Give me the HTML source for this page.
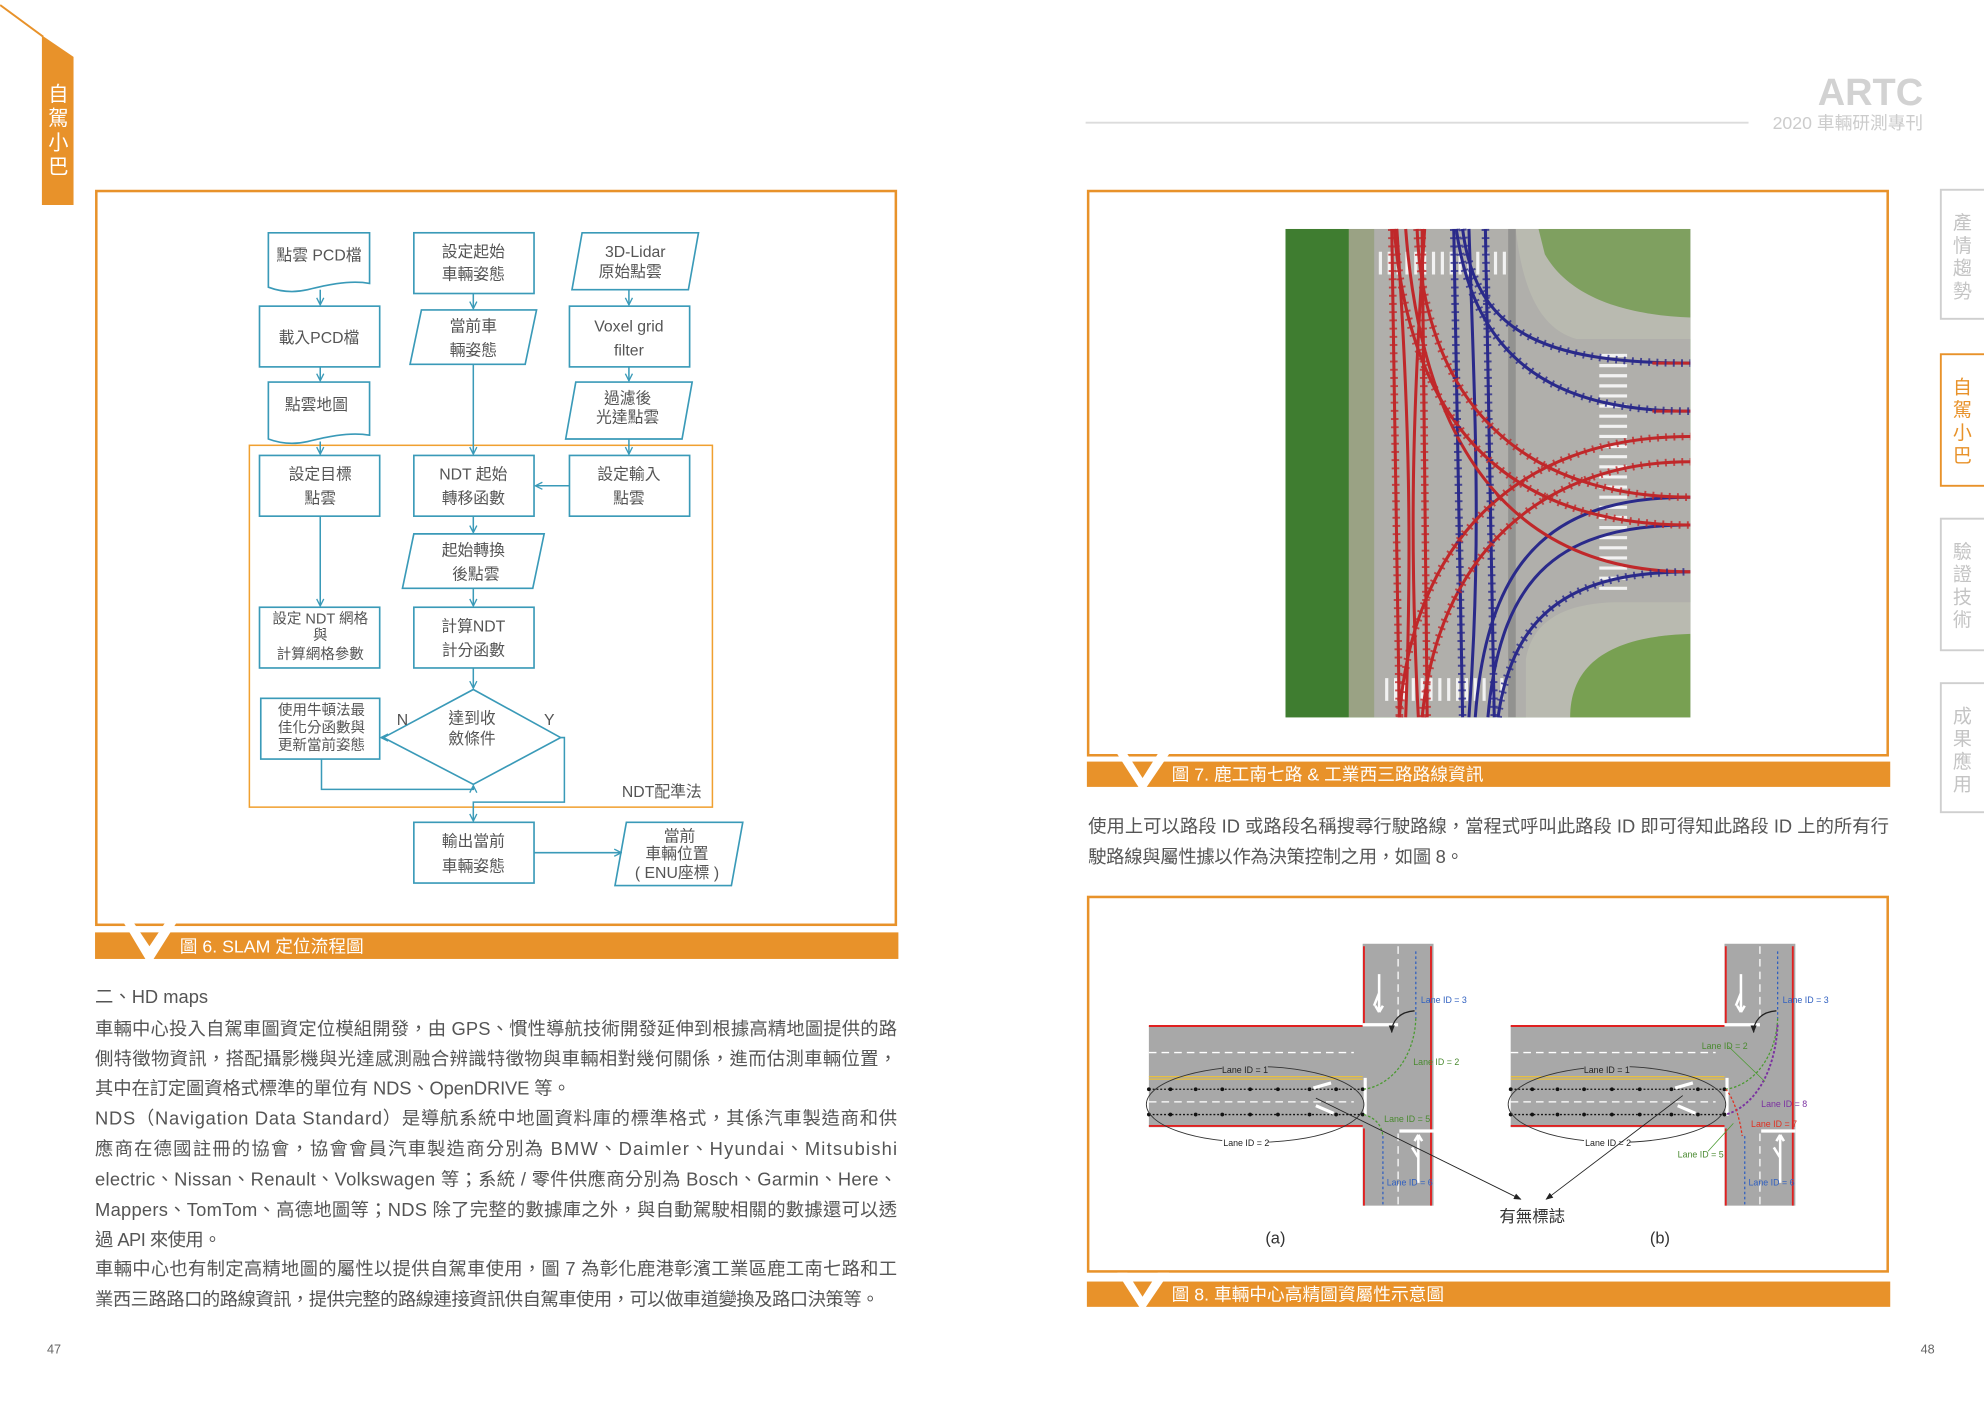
<!DOCTYPE html>
<html><head><meta charset="utf-8"><style>
html,body{margin:0;padding:0;background:#fff;}
svg{display:block;}
text{font-family:"Liberation Sans","Noto Sans CJK TC",sans-serif;}
</style></head><body>
<svg width="1984" height="1403" viewBox="0 0 1568 1109" xmlns="http://www.w3.org/2000/svg">
<defs>
<marker id="ar" viewBox="0 0 10 10" refX="9" refY="5" markerWidth="7" markerHeight="7" orient="auto" markerUnits="userSpaceOnUse">
<polyline points="1,1 9,5 1,9" fill="none" stroke="#3a9ab8" stroke-width="1.5"/></marker>
<marker id="ab" viewBox="0 0 10 10" refX="9" refY="5" markerWidth="6" markerHeight="6" orient="auto" markerUnits="userSpaceOnUse">
<polygon points="0,1 10,5 0,9" fill="#222"/></marker>
</defs>
<rect width="1568" height="1109" fill="#fff"/>

<!-- left tab -->
<line x1="0" y1="4" x2="34" y2="29" stroke="#e8922a" stroke-width="1.5"/>
<polygon points="33,28 58,45 58,162 33,162" fill="#e8922a"/>
<g fill="#fff" font-size="16" text-anchor="middle">
<text x="46" y="80">自</text><text x="46" y="99">駕</text><text x="46" y="118">小</text><text x="46" y="137">巴</text></g>

<!-- header -->
<text x="1520" y="83" font-size="30" font-weight="bold" fill="#d2d2d2" text-anchor="end">ARTC</text>
<line x1="858" y1="97" x2="1382" y2="97" stroke="#dcdcdc" stroke-width="1.5"/>
<text x="1520" y="102" font-size="14" fill="#cccccc" text-anchor="end">2020 車輛研測專刊</text>

<!-- right tabs -->
<g font-size="15" text-anchor="middle">
<rect x="1534" y="150" width="40" height="102" fill="#fff" stroke="#cfcfcf" stroke-width="1.5"/>
<g fill="#c4c4c4"><text x="1551" y="181">產</text><text x="1551" y="199">情</text><text x="1551" y="217">趨</text><text x="1551" y="235">勢</text></g>
<rect x="1534" y="280" width="40" height="104" fill="#fff" stroke="#e8922a" stroke-width="1.5"/>
<g fill="#e8922a"><text x="1551" y="311">自</text><text x="1551" y="329">駕</text><text x="1551" y="347">小</text><text x="1551" y="365">巴</text></g>
<rect x="1534" y="410" width="40" height="104" fill="#fff" stroke="#cfcfcf" stroke-width="1.5"/>
<g fill="#c4c4c4"><text x="1551" y="441">驗</text><text x="1551" y="459">證</text><text x="1551" y="477">技</text><text x="1551" y="495">術</text></g>
<rect x="1534" y="540" width="40" height="102" fill="#fff" stroke="#cfcfcf" stroke-width="1.5"/>
<g fill="#c4c4c4"><text x="1551" y="571">成</text><text x="1551" y="589">果</text><text x="1551" y="607">應</text><text x="1551" y="625">用</text></g>
</g>

<!-- Fig 6 frame -->
<rect x="76" y="151" width="632" height="580" fill="none" stroke="#e8922a" stroke-width="2"/>
<rect x="75" y="737" width="635" height="21" fill="#e8922a"/>
<polygon points="98,730 106,730 118,748 130,730 139,730 120,760 116,760" fill="#fff"/>
<text x="142" y="753" font-size="14" fill="#fff">圖 6. SLAM 定位流程圖</text>

<!-- flowchart -->
<g fill="#fff" stroke="#3a9ab8" stroke-width="1.3">
<path d="M212,184 H292 V224 C275,221 255,226 243,229 C230,232 220,230 212,227 Z"/>
<rect x="327" y="184" width="95" height="48"/>
<polygon points="460,184 552,184 544,229 452,229"/>
<rect x="205" y="242" width="95" height="48"/>
<polygon points="333,245 424,245 415,288 324,288"/>
<rect x="450" y="242" width="95" height="48"/>
<path d="M212,302 H292 V344 C275,341 255,346 243,349 C230,352 220,350 212,347 Z"/>
<polygon points="455,302 547,302 539,347 447,347"/>
</g>
<rect x="197" y="352" width="366" height="286" fill="none" stroke="#f0a030" stroke-width="1.2"/>
<g fill="#fff" stroke="#3a9ab8" stroke-width="1.3">
<rect x="205" y="360" width="95" height="48"/>
<rect x="327" y="360" width="95" height="48"/>
<rect x="450" y="360" width="95" height="48"/>
<polygon points="327,422 430,422 421,465 318,465"/>
<rect x="205" y="480" width="95" height="48"/>
<rect x="327" y="480" width="95" height="48"/>
<rect x="206" y="552" width="94" height="48"/>
<polygon points="374,545 443,583 374,620 303,583"/>
<rect x="327" y="650" width="95" height="48"/>
<polygon points="495,650 587,650 578,700 486,700"/>
</g>
<g fill="none" stroke="#3a9ab8" stroke-width="1.2">
<line x1="253" y1="229" x2="253" y2="241" marker-end="url(#ar)"/>
<line x1="253" y1="290" x2="253" y2="301" marker-end="url(#ar)"/>
<line x1="253" y1="349" x2="253" y2="359" marker-end="url(#ar)"/>
<line x1="374" y1="232" x2="374" y2="244" marker-end="url(#ar)"/>
<line x1="374" y1="288" x2="374" y2="359" marker-end="url(#ar)"/>
<line x1="497" y1="229" x2="497" y2="241" marker-end="url(#ar)"/>
<line x1="497" y1="290" x2="497" y2="301" marker-end="url(#ar)"/>
<line x1="497" y1="347" x2="497" y2="359" marker-end="url(#ar)"/>
<line x1="450" y1="384" x2="423" y2="384" marker-end="url(#ar)"/>
<line x1="374" y1="408" x2="374" y2="421" marker-end="url(#ar)"/>
<line x1="374" y1="465" x2="374" y2="479" marker-end="url(#ar)"/>
<line x1="253" y1="408" x2="253" y2="479" marker-end="url(#ar)"/>
<line x1="374" y1="528" x2="374" y2="544" marker-end="url(#ar)"/>
<line x1="303" y1="583" x2="301" y2="583" marker-end="url(#ar)"/>
<polyline points="254,600 254,624 374,624 374,621" marker-end="url(#ar)"/>
<polyline points="443,583 446,583 446,634 374,634 374,649" marker-end="url(#ar)"/>
<line x1="422" y1="674" x2="491" y2="674" marker-end="url(#ar)"/>
</g>
<g font-size="12.5" fill="#555" text-anchor="middle">
<text x="252" y="206">點雲 PCD檔</text>
<text x="374" y="203">設定起始</text><text x="374" y="221">車輛姿態</text>
<text x="502" y="203">3D-Lidar</text><text x="498" y="219">原始點雲</text>
<text x="252" y="271">載入PCD檔</text>
<text x="374" y="262">當前車</text><text x="374" y="281">輛姿態</text>
<text x="497" y="262">Voxel grid</text><text x="497" y="281">filter</text>
<text x="250" y="324">點雲地圖</text>
<text x="496" y="319">過濾後</text><text x="496" y="334">光達點雲</text>
<text x="253" y="379">設定目標</text><text x="253" y="398">點雲</text>
<text x="374" y="379">NDT 起始</text><text x="374" y="398">轉移函數</text>
<text x="497" y="379">設定輸入</text><text x="497" y="398">點雲</text>
<text x="374" y="439">起始轉換</text><text x="376" y="458">後點雲</text>
<text x="253" y="493" font-size="11.5">設定 NDT 網格</text><text x="253" y="506" font-size="11.5">與</text><text x="253" y="521" font-size="11.5">計算網格參數</text>
<text x="374" y="499">計算NDT</text><text x="374" y="518">計分函數</text>
<text x="254" y="565" font-size="11.5">使用牛頓法最</text><text x="254" y="579" font-size="11.5">佳化分函數與</text><text x="254" y="593" font-size="11.5">更新當前姿態</text>
<text x="373" y="572">達到收</text><text x="373" y="588">斂條件</text>
<text x="374" y="669">輸出當前</text><text x="374" y="689">車輛姿態</text>
<text x="537" y="665">當前</text><text x="535" y="679">車輛位置</text><text x="535" y="694">( ENU座標 )</text>
<text x="318" y="573">N</text><text x="434" y="573">Y</text>
<text x="523" y="630">NDT配準法</text>
</g>

<!-- left body text -->
<g font-size="14.5" fill="#555">
<text x="75" y="793">二、HD maps</text>
<text x="75" y="818" textLength="634" lengthAdjust="spacing">車輛中心投入自駕車圖資定位模組開發，由 GPS、慣性導航技術開發延伸到根據高精地圖提供的路</text>
<text x="75" y="842" textLength="634" lengthAdjust="spacing">側特徵物資訊，搭配攝影機與光達感測融合辨識特徵物與車輛相對幾何關係，進而估測車輛位置，</text>
<text x="75" y="865" textLength="376" lengthAdjust="spacing">其中在訂定圖資格式標準的單位有 NDS、OpenDRIVE 等。</text>
<text x="75" y="889" textLength="634" lengthAdjust="spacing">NDS（Navigation Data Standard）是導航系統中地圖資料庫的標準格式，其係汽車製造商和供</text>
<text x="75" y="913" textLength="634" lengthAdjust="spacing">應商在德國註冊的協會，協會會員汽車製造商分別為 BMW、Daimler、Hyundai、Mitsubishi</text>
<text x="75" y="937" textLength="634" lengthAdjust="spacing">electric、Nissan、Renault、Volkswagen 等；系統 / 零件供應商分別為 Bosch、Garmin、Here、</text>
<text x="75" y="961" textLength="634" lengthAdjust="spacing">Mappers、TomTom、高德地圖等；NDS 除了完整的數據庫之外，與自動駕駛相關的數據還可以透</text>
<text x="75" y="985" textLength="100" lengthAdjust="spacing">過 API 來使用。</text>
<text x="75" y="1008" textLength="634" lengthAdjust="spacing">車輛中心也有制定高精地圖的屬性以提供自駕車使用，圖 7 為彰化鹿港彰濱工業區鹿工南七路和工</text>
<text x="75" y="1032" textLength="620" lengthAdjust="spacing">業西三路路口的路線資訊，提供完整的路線連接資訊供自駕車使用，可以做車道變換及路口決策等。</text>
</g>
<text x="37" y="1070" font-size="10" fill="#666">47</text>
<text x="1518" y="1070" font-size="10" fill="#666">48</text>

<!-- Fig 7 frame -->
<rect x="860" y="151" width="632" height="446" fill="none" stroke="#e8922a" stroke-width="2"/>
<rect x="859" y="602" width="635" height="20" fill="#e8922a"/>
<polygon points="883,596 891,596 903,615 915,596 924,596 905,624 901,624" fill="#fff"/>
<text x="926" y="617" font-size="14" fill="#fff">圖 7. 鹿工南七路 &amp; 工業西三路路線資訊</text>

<!-- aerial -->
<g transform="translate(1016,181)">
<rect width="320" height="386" fill="#4d8c38"/>
<rect x="0" y="0" width="50" height="386" fill="#3f7d30"/>
<rect x="50" y="0" width="20" height="386" fill="#9aa284"/>
<rect x="70" y="0" width="250" height="386" fill="#b0afab"/>
<path d="M182,0 H320 V87 H230 C205,80 188,55 182,0 Z" fill="#b9bab0"/>
<path d="M200,0 H320 V70 C270,68 225,55 205,20 Z" fill="#7fa060"/>
<path d="M190,386 V340 C195,310 220,296 260,295 H320 V386 Z" fill="#b9bab0"/>
<path d="M225,386 C225,345 255,322 320,320 V386 Z" fill="#78a052"/>
<g stroke="#f2f2f2" stroke-width="2.5">
<path d="M75,18 v18 M82,18 v18 M89,18 v18 M96,18 v18 M103,18 v18 M110,18 v18 M117,18 v18 M124,18 v18 M131,18 v18 M138,18 v18 M145,18 v18 M152,18 v18 M159,18 v18 M166,18 v18 M173,18 v18"/>
<path d="M80,355 v18 M87,355 v18 M94,355 v18 M101,355 v18 M108,355 v18 M115,355 v18 M122,355 v18 M129,355 v18 M136,355 v18 M143,355 v18 M150,355 v18 M157,355 v18 M164,355 v18 M171,355 v18"/>
<path d="M248,100 h22 M248,108 h22 M248,116 h22 M248,124 h22 M248,132 h22 M248,140 h22 M248,148 h22 M248,156 h22 M248,164 h22 M248,172 h22 M248,180 h22 M248,188 h22 M248,196 h22 M248,204 h22 M248,212 h22 M248,220 h22 M248,228 h22 M248,236 h22 M248,244 h22 M248,252 h22 M248,260 h22 M248,268 h22 M248,276 h22 M248,284 h22"/>
</g>
<rect x="176" y="0" width="6" height="386" fill="#7f7f7f" opacity="0.6"/>
<g fill="none" stroke-width="2.4">
<g stroke="#2a2a8a">
<line x1="133" y1="0" x2="140" y2="386"/><line x1="158" y1="0" x2="165" y2="386"/>
<path d="M140,0 C150,80 200,106 320,106"/>
<path d="M135,0 C150,110 220,144 320,144"/>
<path d="M150,386 C160,250 220,212 320,212"/>
<path d="M160,386 C170,270 220,234 320,234"/>
<path d="M168,386 C180,300 230,271 320,271"/>
<path d="M145,0 C150,150 155,250 145,386"/>
</g>
<g stroke="#c0282a">
<line x1="84" y1="0" x2="90" y2="386"/><line x1="108" y1="0" x2="112" y2="386"/>
<path d="M90,386 C100,250 180,164 320,164"/>
<path d="M108,386 C120,260 200,184 320,184"/>
<path d="M104,0 C110,150 200,212 320,212"/>
<path d="M86,0 C100,180 200,234 320,234"/>
<path d="M95,0 C110,200 200,271 320,271"/>
<path d="M88,0 C98,150 100,250 95,386"/>
<path d="M110,0 C100,150 98,250 105,386"/>
<line x1="290" y1="106" x2="320" y2="106"/><line x1="290" y1="144" x2="320" y2="144"/>
</g>
</g>
<g fill="none" stroke-width="6" stroke-dasharray="1.5,5" opacity="0.8">
<g stroke="#2a2a8a">
<line x1="133" y1="0" x2="140" y2="386"/><line x1="158" y1="0" x2="165" y2="386"/>
<path d="M140,0 C150,80 200,106 320,106"/><path d="M135,0 C150,110 220,144 320,144"/>
<path d="M168,386 C180,300 230,271 320,271"/>
</g>
<g stroke="#c0282a">
<line x1="84" y1="0" x2="90" y2="386"/><line x1="108" y1="0" x2="112" y2="386"/>
<path d="M90,386 C100,250 180,164 320,164"/><path d="M108,386 C120,260 200,184 320,184"/>
<path d="M104,0 C110,150 200,212 320,212"/><path d="M86,0 C100,180 200,234 320,234"/>
</g>
</g>
</g>

<!-- Fig 7 paragraph -->
<g font-size="14.5" fill="#555">
<text x="860" y="658" textLength="633" lengthAdjust="spacing">使用上可以路段 ID 或路段名稱搜尋行駛路線，當程式呼叫此路段 ID 即可得知此路段 ID 上的所有行</text>
<text x="860" y="682" textLength="297" lengthAdjust="spacing">駛路線與屬性據以作為決策控制之用，如圖 8。</text>
</g>

<!-- Fig 8 frame -->
<rect x="860" y="709" width="632" height="296" fill="none" stroke="#e8922a" stroke-width="2"/>
<rect x="859" y="1013" width="635" height="20" fill="#e8922a"/>
<polygon points="883,1006 891,1006 903,1025 915,1006 924,1006 905,1034 901,1034" fill="#fff"/>
<text x="926" y="1028" font-size="14" fill="#fff">圖 8. 車輛中心高精圖資屬性示意圖</text>

<g id="pa">
<rect x="908" y="811" width="172" height="80" fill="#a8a8a8"/>
<rect x="1077" y="746" width="56" height="207" fill="#a8a8a8"/>
<g stroke="#e02020" stroke-width="1.5">
<line x1="908" y1="811" x2="1077" y2="811"/><line x1="908" y1="890" x2="1077" y2="890"/>
<line x1="1078" y1="748" x2="1078" y2="810"/><line x1="1078" y1="892" x2="1078" y2="953"/>
<line x1="1131" y1="748" x2="1131" y2="953"/>
</g>
<g stroke="#fff" stroke-width="2.5">
<line x1="1077" y1="810" x2="1105" y2="810"/><line x1="1106" y1="894" x2="1133" y2="894"/>
<line x1="1079" y1="852" x2="1079" y2="882"/>
</g>
<g stroke="#fff" stroke-width="1" stroke-dasharray="6,4">
<line x1="908" y1="832" x2="1070" y2="832"/><line x1="908" y1="871" x2="1070" y2="871"/>
<line x1="1105" y1="748" x2="1105" y2="808"/><line x1="1105" y1="896" x2="1105" y2="953"/>
</g>
<line x1="908" y1="851" x2="1077" y2="851" stroke="#e8c040" stroke-width="1"/>
<line x1="908" y1="853" x2="1077" y2="853" stroke="#e8c040" stroke-width="1"/>
<g stroke="#111" stroke-width="1" stroke-dasharray="1.5,1.5">
<line x1="908" y1="861" x2="1077" y2="861"/><line x1="908" y1="881" x2="1077" y2="881"/>
</g>
<g fill="#111"><circle cx="908" cy="861" r="1.5"/><circle cx="925" cy="861" r="1.5"/><circle cx="945" cy="861" r="1.5"/><circle cx="966" cy="861" r="1.5"/><circle cx="988" cy="861" r="1.5"/><circle cx="1010" cy="861" r="1.5"/><circle cx="1035" cy="861" r="1.5"/><circle cx="1056" cy="861" r="1.5"/><circle cx="1077" cy="861" r="1.5"/>
<circle cx="908" cy="881" r="1.5"/><circle cx="925" cy="881" r="1.5"/><circle cx="945" cy="881" r="1.5"/><circle cx="966" cy="881" r="1.5"/><circle cx="988" cy="881" r="1.5"/><circle cx="1010" cy="881" r="1.5"/><circle cx="1035" cy="881" r="1.5"/><circle cx="1056" cy="881" r="1.5"/><circle cx="1077" cy="881" r="1.5"/></g>
<ellipse cx="992" cy="873" rx="86" ry="30" fill="none" stroke="#333" stroke-width="0.7"/>
<rect x="966" y="840" width="36" height="9" fill="#a8a8a8"/>
<rect x="966" y="898" width="36" height="9" fill="#fff"/>
<text x="984" y="848" font-size="7" fill="#222" text-anchor="middle" font-family="Liberation Serif">Lane ID = 1</text>
<text x="985" y="906" font-size="7" fill="#222" text-anchor="middle" font-family="Liberation Serif">Lane ID = 2</text>
<path d="M1038,860 l14,-4 M1040,874 l14,6" stroke="#fff" stroke-width="2.5"/>
<path d="M1090,770 v30 M1090,800 l-3,-5 M1090,800 l3,-5 M1090,785 l-4,10" stroke="#fff" stroke-width="2" fill="none"/>
<path d="M1121,935 v-38 M1121,897 l-3,5 M1121,897 l3,5 M1121,915 l-5,-8" stroke="#fff" stroke-width="2" fill="none"/>
</g>
<use href="#pa" transform="translate(286,0)"/>
<g fill="none" stroke-width="1">
<line x1="1119" y1="752" x2="1119" y2="805" stroke="#3060c0" stroke-dasharray="2,2"/>
<path d="M1119,805 C1118,835 1100,858 1078,861" stroke="#4a9a30" stroke-dasharray="2,1.5"/>
<path d="M1078,881 C1088,884 1092,890 1093,898" stroke="#4a9a30" stroke-dasharray="2,1.5"/>
<line x1="1093" y1="898" x2="1093" y2="953" stroke="#3060c0" stroke-dasharray="2,2"/>
<path d="M1118,799 C1105,800 1100,808 1100,816" stroke="#222" marker-end="url(#ab)"/>
<line x1="1040" y1="868" x2="1202" y2="948" stroke="#222" stroke-width="0.7" marker-end="url(#ab)"/>
<line x1="1405" y1="752" x2="1405" y2="805" stroke="#3060c0" stroke-dasharray="2,2"/>
<path d="M1405,805 C1404,835 1386,858 1364,861" stroke="#4a9a30" stroke-dasharray="2,1.5"/>
<path d="M1405,810 C1403,850 1385,875 1364,881" stroke="#7a30a0" stroke-dasharray="2,1.5" stroke-width="1.5"/>
<path d="M1364,861 C1372,870 1376,890 1377,898" stroke="#e03020" stroke-dasharray="2,1.5"/>
<line x1="1379" y1="898" x2="1379" y2="953" stroke="#3060c0" stroke-dasharray="2,2"/>
<path d="M1404,799 C1391,800 1386,808 1386,816" stroke="#222" marker-end="url(#ab)"/>
<line x1="1330" y1="866" x2="1222" y2="948" stroke="#222" stroke-width="0.7" marker-end="url(#ab)"/>
<line x1="1395" y1="855" x2="1366" y2="827" stroke="#4a9a30" stroke-width="0.6"/>
<line x1="1370" y1="888" x2="1350" y2="910" stroke="#4a9a30" stroke-width="0.6"/>
</g>
<g font-size="7" font-family="Liberation Serif">
<text x="1123" y="793" fill="#3060c0">Lane ID = 3</text>
<text x="1117" y="842" fill="#4a8a30">Lane ID = 2</text>
<text x="1094" y="887" fill="#4a8a30">Lane ID = 5</text>
<text x="1096" y="937" fill="#3060c0">Lane ID = 6</text>
<text x="1409" y="793" fill="#3060c0">Lane ID = 3</text>
<text x="1345" y="829" fill="#4a8a30">Lane ID = 2</text>
<text x="1392" y="875" fill="#7a30a0">Lane ID = 8</text>
<text x="1384" y="891" fill="#e03020">Lane ID = 7</text>
<text x="1326" y="915" fill="#4a8a30">Lane ID = 5</text>
<text x="1382" y="937" fill="#3060c0">Lane ID = 6</text>
</g>
<g font-size="13" fill="#333" text-anchor="middle">
<text x="1211" y="966">有無標誌</text>
<text x="1008" y="983">(a)</text>
<text x="1312" y="983">(b)</text>
</g>
</svg>
</body></html>
